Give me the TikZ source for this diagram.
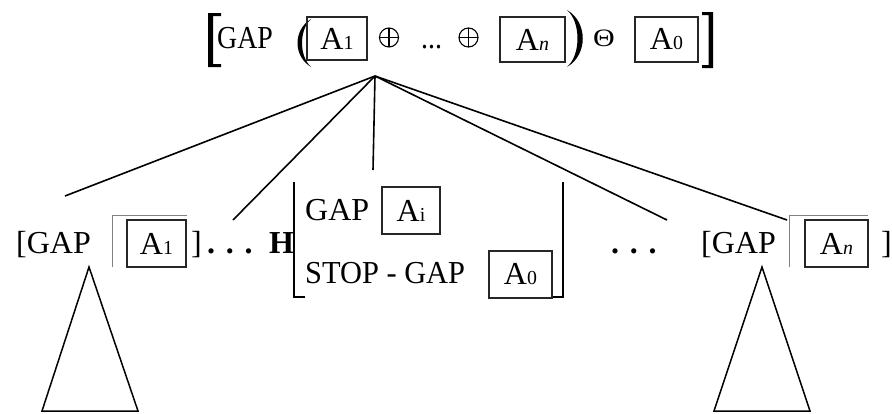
\documentclass[tikz,border=0pt]{standalone}
\usepackage{fontspec}
\setmainfont{Liberation Serif}
\usepackage{graphicx}
\newcommand\smi[1]{\scalebox{0.62}{#1}}
\newcommand\cmp[1]{\scalebox{0.87}[1]{#1}}
\begin{document}
\begin{tikzpicture}[x=1pt,y=-1pt,
  topf/.style={font=\fontsize{32}{38}\selectfont, inner sep=0pt},
  botf/.style={font=\fontsize{32}{38}\selectfont, inner sep=0pt},
  abox/.style={draw=black!85, line width=1.2pt, inner sep=0pt, minimum height=47pt},
  oplusnode/.style={circle, draw, line width=1.1pt, inner sep=0pt, minimum size=19pt,
    path picture={\draw[line width=1.1pt] (path picture bounding box.north) -- (path picture bounding box.south)
      (path picture bounding box.west) -- (path picture bounding box.east);}},
  gframe/.style={draw=black!50, line width=1pt},
  brk/.style={line width=1.2pt},
  branch/.style={line width=1.6pt},
  tri/.style={draw, line width=1.5pt}]
\useasboundingbox (0,0) rectangle (892,413);

% ---- top row ----
\fill (208,13) -- (221,13) -- (221,16) -- (213,16) -- (213,64) -- (221,64) -- (221,67) -- (208,67) -- cycle;
\fill (713,12) -- (702,12) -- (702,15) -- (708.5,15) -- (708.5,65) -- (702,65) -- (702,68) -- (713,68) -- cycle;
\fill (311,19) .. controls (293,30) and (293,56) .. (311,67) .. controls (299,56) and (299,30) .. (311,19) -- cycle;
\fill (567,10) .. controls (588,22) and (588,55) .. (567,67) .. controls (581,55) and (581,22) .. (567,10) -- cycle;
\node[topf, anchor=base west] (tgap) at (217,48) {\cmp{GAP}};
\node[abox, topf, minimum width=60pt, minimum height=43pt] (tA1) at (337,38.5) {A\smi{1}};
\node[oplusnode] (op1) at (389,37.5) {};
\node[topf, anchor=base west] (tdots) at (421,48) {\cmp{...}};
\node[oplusnode] (op2) at (468.5,37.5) {};
\node[abox, topf, minimum width=65pt, minimum height=45pt] (tAn) at (532.5,39.5) {A\smi{\itshape n}};
\node[inner sep=0pt, font=\fontsize{25}{25}\selectfont] (theta) at (604,38.5) {\scalebox{1.2}[1]{Θ}};
\node[abox, topf, minimum width=63pt, minimum height=45pt] (tA0) at (666.5,39.5) {A\smi{0}};

% ---- connectors ----
\coordinate (apex) at (375,76);
\coordinate (e1) at (65,196);
\coordinate (e2) at (233,220);
\coordinate (e3) at (373,170);
\coordinate (e4) at (667,220);
\coordinate (e5) at (787,220);
\draw[branch] (apex) -- (e1);
\draw[branch] (apex) -- (e2);
\draw[branch] (apex) -- (e3);
\draw[branch] (apex) -- (e4);
\draw[branch] (apex) -- (e5);

% ---- bottom left ----
\node[botf, anchor=base west] (lgap) at (16,253) {[GAP};
\draw[gframe] (112,267) -- (112,215) -- (187,215);
\node[abox, botf, minimum width=59pt] (lA1) at (156.5,243.5) {A\smi{1}};
\node[botf, anchor=base west] (lrb) at (191,253) {]};
\node[botf, anchor=base west] (ldots) at (207,253) {\textbf{. . .}};
\node[botf, anchor=base west] (hh) at (269,253) {\textbf{H}};

% ---- middle ----
\draw[brk] (305,297) -- (294,297) -- (294,182);
\draw[brk] (553,297) -- (563,297) -- (563,182);
\node[botf, anchor=base west] (mgap) at (305,220) {GAP};
\node[abox, botf, minimum width=58pt] (mAi) at (411,210.5) {A\smi{i}};
\node[botf, anchor=base west] (stop) at (305,283) {\scalebox{0.95}[1]{STOP - GAP}};
\node[abox, botf, minimum width=63pt] (mA0) at (520.5,274.5) {A\smi{0}};

% ---- bottom right ----
\node[botf, anchor=base west] (rdots) at (611,253) {\textbf{. . .}};
\node[botf, anchor=base west] (rgap) at (701,253) {[GAP};
\draw[gframe] (789,267) -- (789,215) -- (868,215);
\node[abox, botf, minimum width=63pt] (rAn) at (836.5,243.5) {A\smi{\itshape n}};
\node[botf, anchor=base west] (rrb) at (881,253) {]};

% ---- triangles ----
\coordinate (la) at (89,267);
\coordinate (lb) at (42,411);
\coordinate (lc) at (138,411);
\draw[tri] (la) -- (lb) -- (lc) -- cycle;
\coordinate (ra) at (762,267);
\coordinate (rb) at (714,411);
\coordinate (rc) at (810,411);
\draw[tri] (ra) -- (rb) -- (rc) -- cycle;
\end{tikzpicture}
\end{document}
